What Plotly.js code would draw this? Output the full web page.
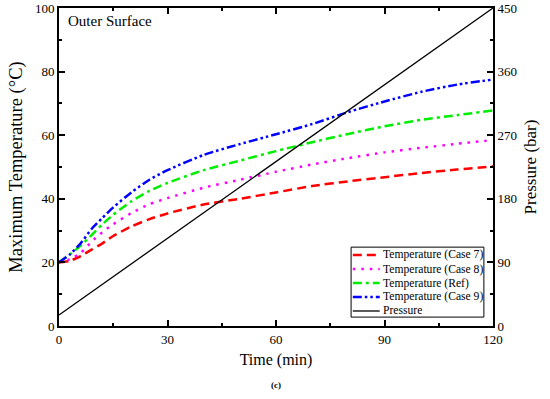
<!DOCTYPE html>
<html>
<head>
<meta charset="utf-8">
<script src="https://cdn.plot.ly/plotly-3.0.1.min.js"></script>
<style>html,body{margin:0;padding:0;background:#fff;}#chart{width:550px;height:399px;}</style>
</head>
<body>
<div id="chart"></div>
<script>
const time = [0, 3, 6, 9, 12, 15, 20, 25, 30, 40, 50, 60, 70, 80, 90, 100, 110, 120];
const tempCase7 = [20, 20.5, 22, 24, 26, 28.3, 31.3, 33.6, 35.4, 38.2, 40, 42, 44, 45.5, 46.8, 48.1, 49.2, 50.2];
const tempCase8 = [20, 21, 23, 26.5, 29.5, 32, 35.5, 38.3, 40.2, 43.5, 46, 48.5, 50.8, 52.8, 54.6, 56, 57.3, 58.5];
const tempRef = [20, 22.5, 25.3, 28.6, 32, 35, 39.2, 42.5, 45, 49, 52, 55, 57.8, 60.4, 62.8, 64.8, 66.3, 67.8];
const tempCase9 = [20, 22.5, 26, 30.5, 34, 37.3, 42, 46, 49, 53.8, 57.2, 60.3, 63.5, 67.3, 70.6, 73.6, 75.9, 77.5];
const pressureTime = [0, 120];
const pressure = [15.5, 450];
const names = ["Temperature (Case 7)", "Temperature (Case 8)", "Temperature (Ref)", "Temperature (Case 9)", "Pressure"];

const font = "Liberation Serif";
const lineStyles = [
  {color: "#ff0000", width: 2.5, dash: "9px,5px"},
  {color: "#ff00ff", width: 2.5, dash: "2.5px,6px"},
  {color: "#00ee00", width: 2.5, dash: "9px,4px,3px,4px"},
  {color: "#0000ff", width: 2.5, dash: "9px,3px,2.5px,3px,2.5px,3px"},
  {color: "#000000", width: 1.3, dash: "solid"}
];
const series = [tempCase7, tempCase8, tempRef, tempCase9];
const traces = series.map((s, i) => ({x: time, y: s, name: names[i], mode: "lines",
  line: Object.assign({shape: "spline", smoothing: 0.6}, lineStyles[i])}));
traces.push({x: pressureTime, y: pressure, name: names[4], mode: "lines", yaxis: "y2", line: lineStyles[4]});

const axisCommon = {
  showgrid: false, zeroline: false, showline: true, linecolor: "#000", linewidth: 2,
  ticks: "inside", ticklen: 6, tickwidth: 2, tickcolor: "#000",
  tickfont: {family: font, size: 13, color: "#000"}
};

// custom compact legend
const legX0 = 0.673, legX1 = 0.979, legY0 = 0.028, legY1 = 0.248;
const rowY = [0.2233, 0.1792, 0.1352, 0.0912, 0.0472];
const shapes = [{type: "rect", xref: "paper", yref: "paper", x0: legX0, x1: legX1, y0: legY0, y1: legY1,
  line: {color: "#000", width: 1}, fillcolor: "#fff", layer: "above"}];
const annotations = [
  {text: "Outer Surface", xref: "paper", yref: "paper", x: 0.016, y: 0.99, xanchor: "left", yanchor: "top",
   showarrow: false, font: {family: font, size: 15, color: "#000"}},
  {text: "<b>(c)</b>", xref: "paper", yref: "paper", x: 0.5, y: -0.185, xanchor: "center", yanchor: "middle",
   showarrow: false, font: {family: font, size: 9, color: "#000"}}
];
names.forEach((n, i) => {
  shapes.push({type: "line", xref: "paper", yref: "paper", x0: 0.677, x1: 0.739, y0: rowY[i], y1: rowY[i],
    line: lineStyles[i], layer: "above"});
  annotations.push({text: n, xref: "paper", yref: "paper", x: 0.743, y: rowY[i], xanchor: "left", yanchor: "middle",
    showarrow: false, font: {family: font, size: 11.6, color: "#000"}});
});

const layout = {
  width: 550, height: 399,
  margin: {l: 59, r: 57, t: 8, b: 73},
  paper_bgcolor: "#fff", plot_bgcolor: "#fff",
  showlegend: false,
  font: {family: font, color: "#000"},
  xaxis: Object.assign({}, axisCommon, {
    range: [0, 120], tickvals: [0, 30, 60, 90, 120], mirror: "ticks",
    minor: {dtick: 15, ticks: "inside", ticklen: 3, tickwidth: 2, tickcolor: "#000"},
    title: {text: "Time (min)", font: {family: font, size: 16, color: "#000"}, standoff: 8}
  }),
  yaxis: Object.assign({}, axisCommon, {
    range: [0, 100], tickvals: [0, 20, 40, 60, 80, 100],
    minor: {dtick: 10, ticks: "inside", ticklen: 3, tickwidth: 2, tickcolor: "#000"},
    title: {text: "Maximum Temperature (°C)", font: {family: font, size: 18.5, color: "#000"}, standoff: 7}
  }),
  yaxis2: Object.assign({}, axisCommon, {
    range: [0, 450], tickvals: [0, 90, 180, 270, 360, 450], overlaying: "y", side: "right",
    minor: {dtick: 45, ticks: "inside", ticklen: 3, tickwidth: 2, tickcolor: "#000"},
    title: {text: "Pressure (bar)", font: {family: font, size: 17, color: "#000"}, standoff: 8}
  }),
  shapes: shapes,
  annotations: annotations
};

Plotly.newPlot("chart", traces, layout, {displayModeBar: false, staticPlot: true});
</script>
</body>
</html>
